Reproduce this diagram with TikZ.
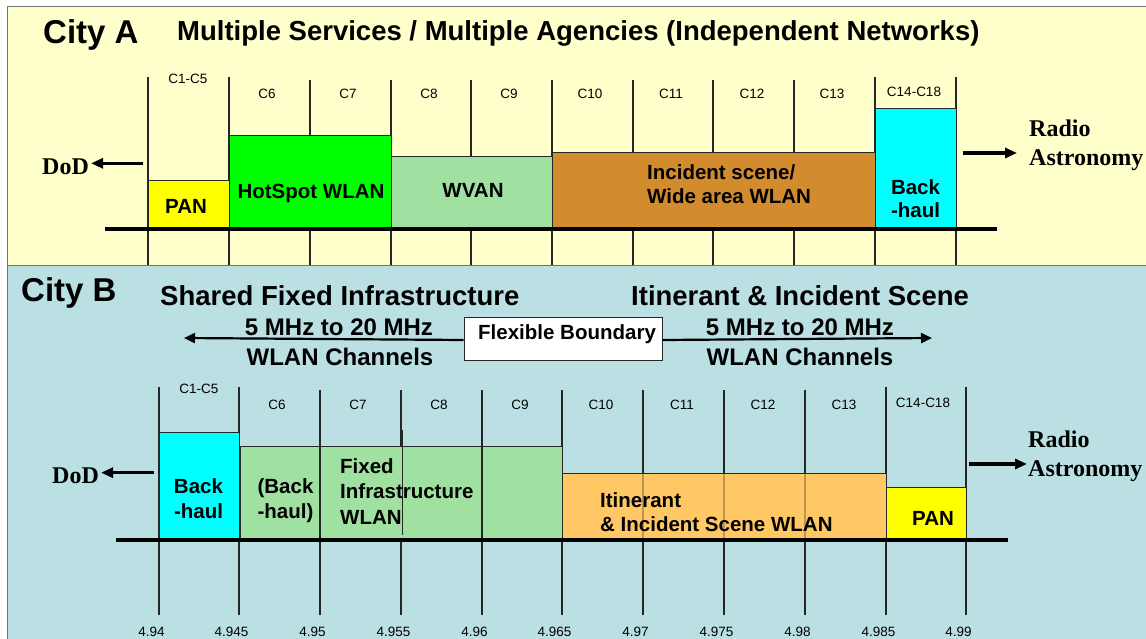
\documentclass[tikz,border=0pt]{standalone}
\usepackage{fontspec}
\setmainfont{Liberation Sans}
\newfontfamily\tnr{Liberation Serif}
\usetikzlibrary{arrows.meta}
\definecolor{paneA}{RGB}{255,255,204}
\definecolor{paneB}{RGB}{186,224,227}
\definecolor{wvan}{RGB}{160,224,160}
\definecolor{incid}{RGB}{210,140,45}
\definecolor{itin}{RGB}{255,200,100}
\definecolor{hot}{RGB}{0,255,0}
\definecolor{aqua}{RGB}{0,255,255}
\definecolor{yel}{RGB}{255,255,0}
\newcommand\fsz[1]{\fontsize{#1bp}{#1bp}\selectfont}
\tikzset{
  txt/.style={inner sep=0pt, anchor=base},
  txtw/.style={inner sep=0pt, anchor=base west},
  chan/.style={txt, font=\fsz{13.5}},
  axis/.style={txt, font=\fsz{13.5}},
  blab/.style={txt, font=\fsz{20.5}\bfseries},
  blabw/.style={txtw, font=\fsz{20.5}\bfseries},
  city/.style={txtw, font=\fsz{33}\bfseries},
  ttl/.style={txtw, font=\fsz{27.5}\bfseries},
  mid/.style={txt, font=\fsz{24}\bfseries},
  serif/.style={txtw, font=\fsz{24}\tnr\bfseries},
  vline/.style={line width=1.2bp, black!85},
  baseline/.style={line width=4bp, black},
  band/.style={draw=black!85, line width=1bp},
  bigarr/.style={line width=3.5bp, -{Triangle[length=12bp,width=10bp]}},
  hdrarr/.style={line width=2.2bp, -{Triangle[length=11bp,width=10bp]}},
}
\begin{document}
\begin{tikzpicture}[x=1bp,y=-1bp]
\useasboundingbox (0,0) rectangle (1146,639);
\fill[white] (0,0) rectangle (1146,639);
% panels
\begin{scope}
\clip (0,0) rectangle (1146,639);
\filldraw[fill=paneA, draw=black!55, line width=1bp] (7,7) rectangle (1160,265.5);
\filldraw[fill=paneB, draw=black!55, line width=1bp] (7,265.5) rectangle (1160,650);
\end{scope}

% ================= City A =================
\node[city] (cityA) at (43,44) {City A};
\node[ttl] (titleA) at (177,41) {Multiple Services / Multiple Agencies (Independent Networks)};

\foreach \x/\t in {148/77,229/77,310/80,391/80,471/80,552/80,633/80,713/80,794/80,875/77,956/77}
  \draw[vline] (\x,\t) -- (\x,265);

\node[chan] (a1) at (188,84) {C1-C5};
\foreach \n/\x in {6/267,7/348,8/429,9/509,10/590,11/671,12/752,13/832}
  \node[chan] (a\n) at (\x,99) {C\n};
\node[chan] (a14) at (914,97) {C14-C18};

\filldraw[band, fill=yel] (148,180.7) rectangle (229,229);
\filldraw[band, fill=hot] (229,136) rectangle (391,229);
\filldraw[band, fill=wvan] (391,156.7) rectangle (552,229);
\filldraw[band, fill=incid] (552,153) rectangle (875,229);
\filldraw[band, fill=aqua] (875,109) rectangle (956,229);
\draw[baseline] (105,229.5) -- (997,229.5);

\node[blab] (panA) at (186,214) {PAN};
\node[blab] (hotA) at (311,199) {HotSpot WLAN};
\node[blab] (wvanA) at (473,198) {WVAN};
\node[blabw] (incA1) at (647,180) {Incident scene/};
\node[blabw] (incA2) at (647,204) {Wide area WLAN};
\node[blab] (bhA1) at (915.5,195) {Back};
\node[blab] (bhA2) at (915.5,218) {-haul};

\node[serif] (dodA) at (42,175) {DoD};
\coordinate (dodA0) at (143,163.3);
\draw[bigarr] (dodA0) -- ([xshift=2bp]dodA0 -| dodA.east);

\node[serif] (radA1) at (1029,137) {Radio};
\node[serif] (radA2) at (1029,166) {Astronomy};
\coordinate (radA0) at (963,153);
\draw[bigarr] (radA0) -- ([xshift=-12bp]radA0 -| radA2.west);

% ================= City B =================
\node[city] (cityB) at (21,302) {City B};
\node[ttl] (titleB1) at (160,306) {Shared Fixed Infrastructure};
\node[ttl] (titleB2) at (631,306) {Itinerant \& Incident Scene};

\node[draw=black!85, line width=1bp, fill=white, minimum width=198bp, minimum height=42bp, inner sep=0pt] (flex) at (563,339) {};
\node[txtw, font=\fsz{20.5}\bfseries] (flext) at (478,339.3) {Flexible Boundary};
\coordinate (leftend) at (184,338);
\coordinate (rightend) at (932,338);
\draw[hdrarr] ([yshift=-1bp]flex.west) -- (leftend);
\draw[hdrarr] ([yshift=-1bp]flex.east) -- (rightend);

\node[mid] (mhzL) at (339,336) {5 MHz to 20 MHz};
\node[mid] (wlanL) at (340,365) {WLAN Channels};
\node[mid] (mhzR) at (800,336) {5 MHz to 20 MHz};
\node[mid] (wlanR) at (800,365) {WLAN Channels};

\foreach \x/\t in {159/387,239/387,320/390,401/390,482/390,562/390,643/390,724/390,805/390,886/387,966/387}
  \draw[vline] (\x,\t) -- (\x,615);

\node[chan] (b1) at (199,393) {C1-C5};
\foreach \n/\x in {6/277,7/358,8/439,9/520,10/601,11/682,12/763,13/844}
  \node[chan] (b\n) at (\x,409) {C\n};
\node[chan] (b14) at (923,407) {C14-C18};

\filldraw[band, fill=aqua] (159,432) rectangle (239,540);
\filldraw[band, fill=wvan] (240.5,446) rectangle (562,540);
\filldraw[band, fill=itin] (562,473) rectangle (886,540);
\filldraw[band, fill=yel] (886,487) rectangle (966,540);
% channel edges seen through the bands
\draw[vline] (320,446) -- (320,540);
\draw[vline] (482,446) -- (482,540);
\draw[vline] (402.5,430) -- (402.5,535);
\foreach \x in {643,724,805}
  \draw[vline, draw opacity=0.3] (\x,473) -- (\x,540);
\draw[baseline] (116,539.7) -- (1008,539.7);

\node[blab] (bhB1) at (198.5,493) {Back};
\node[blab] (bhB2) at (198.5,518) {-haul};
\node[blab] (bhB3) at (285.5,493) {(Back};
\node[blab] (bhB4) at (285.5,518) {-haul)};
\node[blabw] (fixB1) at (340,473.5) {Fixed};
\node[blabw] (fixB2) at (340,498.5) {Infrastructure};
\node[blabw] (fixB3) at (340,524) {WLAN};
\node[blabw] (itB1) at (600,507) {Itinerant};
\node[blabw] (itB2) at (600,531) {\& Incident Scene WLAN};
\node[blab] (panB) at (933,525) {PAN};

\node[serif] (dodB) at (52,483) {DoD};
\coordinate (dodB0) at (154,472.7);
\draw[bigarr] (dodB0) -- ([xshift=2bp]dodB0 -| dodB.east);

\node[serif] (radB1) at (1028,447) {Radio};
\node[serif] (radB2) at (1028,476) {Astronomy};
\coordinate (radB0) at (969,464);
\draw[bigarr] (radB0) -- ([xshift=-1bp]radB0 -| radB2.west);

\foreach \v/\x [count=\i] in {4.94/159,4.945/239,4.95/320,4.955/401,4.96/482,4.965/562,4.97/643,4.975/724,4.98/805,4.985/886,4.99/966}
  \node[axis] (ax\i) at (\x-7.5,636.5) {\v};
\end{tikzpicture}
\end{document}
